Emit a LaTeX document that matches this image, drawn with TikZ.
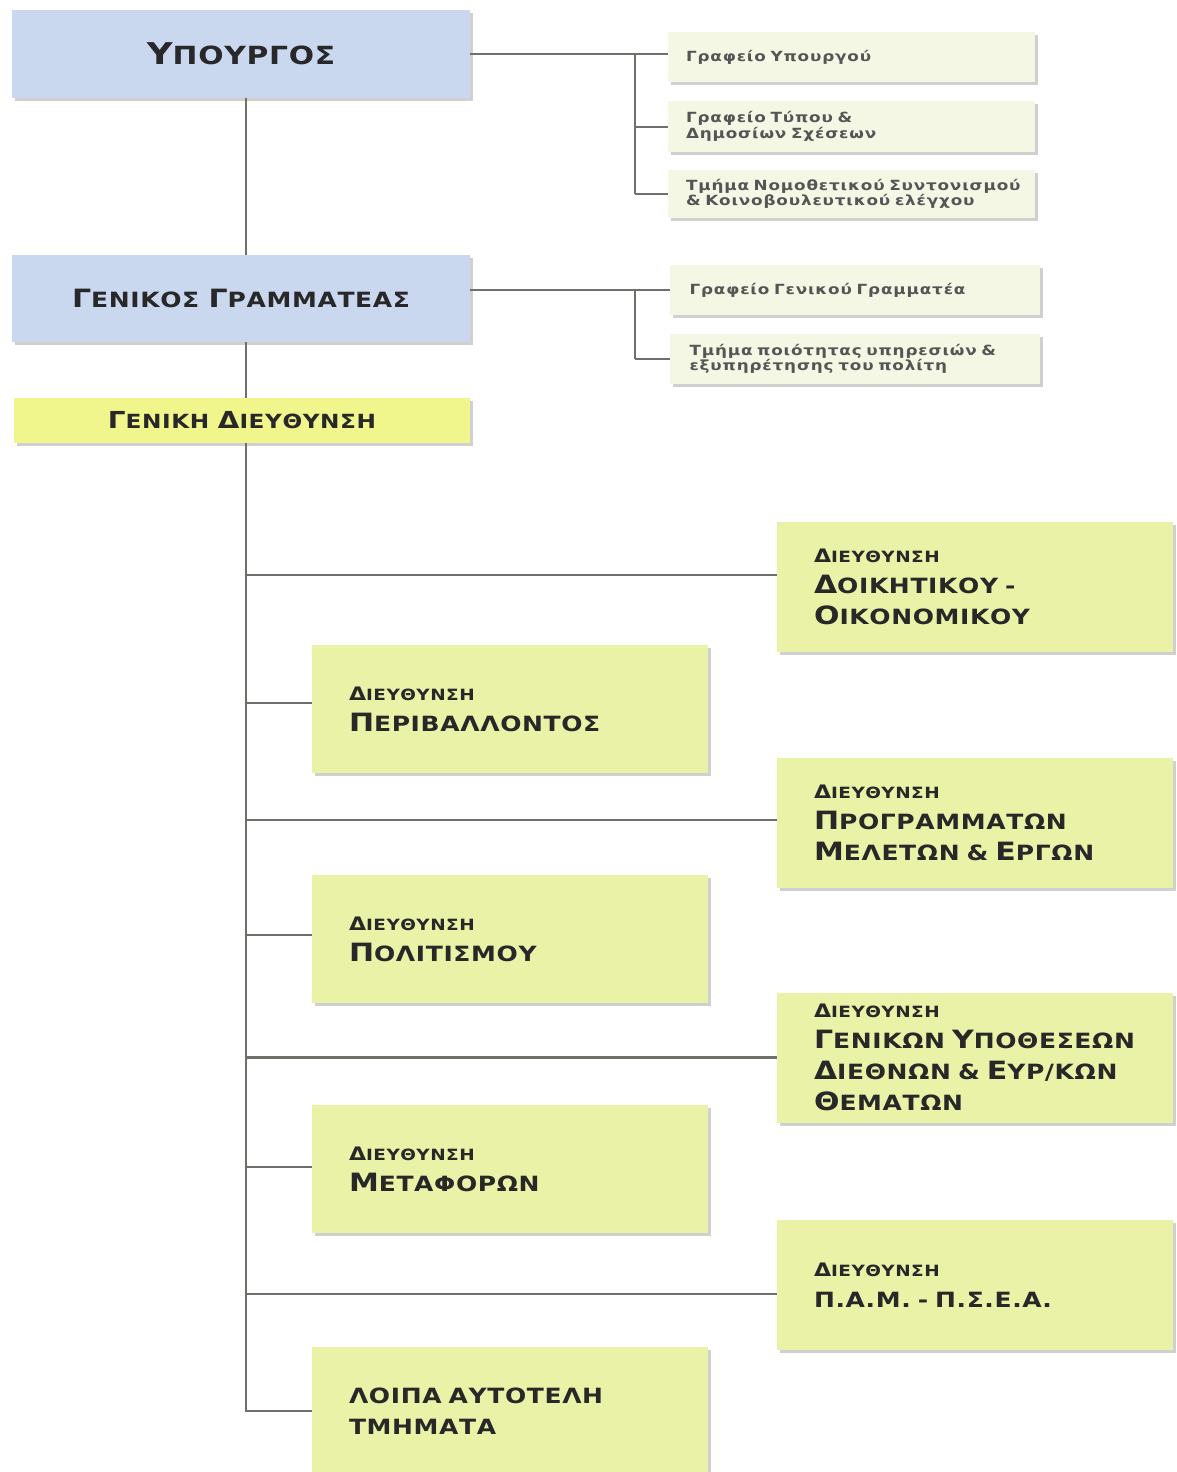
\documentclass[tikz,border=0pt]{standalone}
\usepackage{fontspec}
\usepackage{graphicx}
\setmainfont{DejaVu Sans}
\newfontfamily\cop[FakeStretch=1.19,LetterSpace=3]{DejaVu Sans}
\newfontfamily\smf[FakeStretch=1.2,LetterSpace=6]{DejaVu Sans}
\usetikzlibrary{shadows}
\newcommand\I[1]{\scalebox{1.2}{#1}}
\definecolor{bluef}{RGB}{201,215,239}
\definecolor{yelf}{RGB}{234,242,168}
\definecolor{gdf}{RGB}{240,245,140}
\definecolor{palef}{RGB}{243,247,228}
\definecolor{linec}{RGB}{112,112,106}
\definecolor{txt}{RGB}{40,40,40}
\definecolor{smtxt}{RGB}{85,85,85}
\begin{document}
\begin{tikzpicture}[x=1pt,y=-1pt,
  shad/.style={drop shadow={shadow xshift=3pt,shadow yshift=-3pt,opacity=0.3,fill=black!60}},
  conn/.style={draw=linec,line width=2.6pt},
  thin/.style={draw=linec,line width=2pt},
  topbox/.style={shad,fill=bluef,minimum width=458,minimum height=87,inner sep=0,text=txt,font=\cop\bfseries\fontsize{21}{26}\selectfont},
  gdbox/.style={shad,fill=gdf,minimum width=456,minimum height=45,inner sep=0,text=txt,font=\cop\bfseries\fontsize{19.5}{22}\selectfont},
  smallbox/.style={shad,fill=palef,minimum width=367,minimum height=50,text width=331,align=left,inner sep=0,text=smtxt,font=\smf\bfseries\fontsize{14}{15.5}\selectfont},
  dirbox/.style={shad,fill=yelf,minimum width=396,minimum height=130,text width=322,align=left,inner sep=0,text=txt,font=\cop\bfseries\fontsize{21}{31}\selectfont}
]
\useasboundingbox[fill=white] (0,0) rectangle (1177,1472);
\newcommand\lab{{\fontsize{15.5}{31}\selectfont\I{Δ}ΙΕΥΘΥΝΣΗ}}

\node[topbox,font=\cop\bfseries\fontsize{25}{28}\selectfont] (ypo) at (241,54) {\I{Υ}ΠΟΥΡΓΟΣ};
\node[topbox] (gg) at (241,298.5) {\I{Γ}ΕΝΙΚΟΣ \I{Γ}ΡΑΜΜΑΤΕΑΣ};
\node[gdbox] (gd) at (242,420.5) {\I{Γ}ΕΝΙΚΗ \I{Δ}ΙΕΥΘΥΝΣΗ};

\node[smallbox,minimum height=49] (sy1) at (851.5,57) {\mbox{Γραφείο Υπουργού}};
\node[smallbox,minimum height=51] (sy2) at (851.5,126.5) {\mbox{Γραφείο Τύπου \&}\\\mbox{Δημοσίων Σχέσεων}};
\node[smallbox,minimum height=48] (sy3) at (851.5,194) {\mbox{Τμήμα Νομοθετικού Συντονισμού}\\\mbox{\& Κοινοβουλευτικού ελέγχου}};
\node[smallbox,minimum width=370] (gs1) at (855,290) {\mbox{Γραφείο Γενικού Γραμματέα}};
\node[smallbox,minimum width=370] (gs2) at (855,359) {\mbox{Τμήμα ποιότητας υπηρεσιών \&}\\\mbox{εξυπηρέτησης του πολίτη}};

\node[dirbox] (d1) at (975,587) {\lab\\\mbox{\I{Δ}ΟΙΚΗΤΙΚΟΥ -}\\\mbox{\I{Ο}ΙΚΟΝΟΜΙΚΟΥ}};
\node[dirbox,minimum height=128] (d2) at (510,709) {\lab\\\mbox{\I{Π}ΕΡΙΒΑΛΛΟΝΤΟΣ}};
\node[dirbox] (d3) at (975,823) {\lab\\\mbox{\I{Π}ΡΟΓΡΑΜΜΑΤΩΝ}\\\mbox{\I{Μ}ΕΛΕΤΩΝ \& \I{Ε}ΡΓΩΝ}};
\node[dirbox,minimum height=128] (d4) at (510,939) {\lab\\\mbox{\I{Π}ΟΛΙΤΙΣΜΟΥ}};
\node[dirbox] (d5) at (975,1057.5) {\lab\\\mbox{\I{Γ}ΕΝΙΚΩΝ \I{Υ}ΠΟΘΕΣΕΩΝ}\\\mbox{\I{Δ}ΙΕΘΝΩΝ \& \I{Ε}ΥΡ/ΚΩΝ}\\\mbox{\I{Θ}ΕΜΑΤΩΝ}};
\node[dirbox,minimum height=128] (d6) at (510,1169) {\lab\\\mbox{\I{Μ}ΕΤΑΦΟΡΩΝ}};
\node[dirbox] (d7) at (975,1285) {\lab\\\mbox{Π.Α.Μ. - Π.Σ.Ε.Α.}};
\node[dirbox,minimum height=128] (d8) at (510,1411) {\mbox{ΛΟΙΠΑ ΑΥΤΟΤΕΛΗ}\\\mbox{ΤΜΗΜΑΤΑ}};

\coordinate (tx) at (246,0);
\coordinate (j1) at (635,0);
\coordinate (j2) at (635,0);

\draw[conn] (ypo.south -| tx) -- (gg.north -| tx);
\draw[conn] (gg.south -| tx) -- (gd.north -| tx);
\draw[conn] (gd.south -| tx) -- (d8.west -| tx) -- (d8.west);
\foreach \n/\s in {d1/12,d2/6,d3/3,d4/4,d5/0,d6/2,d7/-9}{\draw[conn] ([yshift=\s pt]\n.west -| tx) -- ([yshift=\s pt]\n.west);}

\draw[thin] (ypo.east) -- (sy1.west |- ypo.east);
\draw[conn] (ypo.east -| j1) -- (sy3.west -| j1);
\draw[thin] (sy2.west -| j1) -- (sy2.west);
\draw[thin] (sy3.west -| j1) -- (sy3.west);

\draw[thin] ([yshift=8.5pt]gg.east) -- (gs1.west);
\draw[conn] (gs1.west -| j2) -- (gs2.west -| j2);
\draw[thin] (gs2.west -| j2) -- (gs2.west);
\end{tikzpicture}
\end{document}
